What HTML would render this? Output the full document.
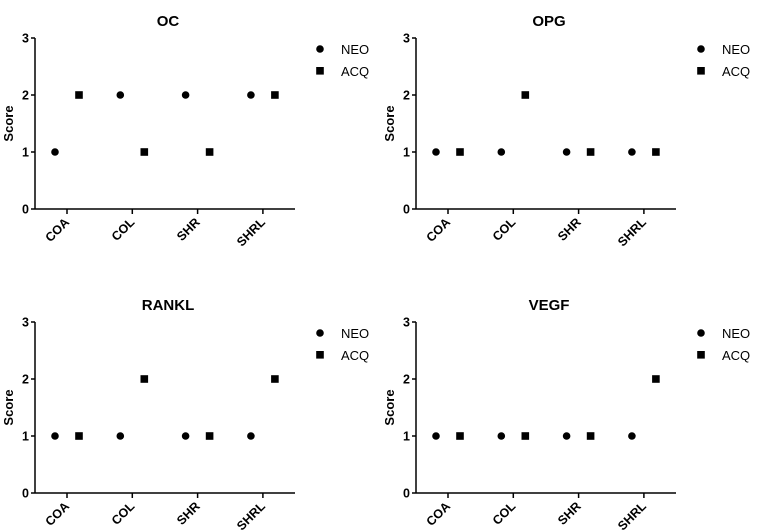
<!DOCTYPE html>
<html><head><meta charset="utf-8"><style>
html,body{margin:0;padding:0;background:#fff;}
svg{display:block;font-family:"Liberation Sans",Arial,sans-serif;}
</style></head><body>
<svg id="c" width="758" height="532" viewBox="0 0 758 532"></svg>
<script>
const categories = ["COA","COL","SHR","SHRL"];
const titles = ["OC","OPG","RANKL","VEGF"];
const yTicks = [0,1,2,3];
const neoOC = [1,2,2,2];
const acqOC = [2,1,1,2];
const neoOPG = [1,1,1,1];
const acqOPG = [1,2,1,1];
const neoRANKL = [1,1,1,1];
const acqRANKL = [1,2,1,2];
const neoVEGF = [1,1,1,1];
const acqVEGF = [1,1,1,2];
const neoSeries = [neoOC,neoOPG,neoRANKL,neoVEGF];
const acqSeries = [acqOC,acqOPG,acqRANKL,acqVEGF];

const NS="http://www.w3.org/2000/svg";
const svg=document.getElementById('c');
function mk(tag,attrs,parent,text){const e=document.createElementNS(NS,tag);for(const k in attrs)e.setAttribute(k,attrs[k]);if(text!==undefined)e.textContent=text;(parent||svg).appendChild(e);return e;}
const offsets=[[0,0],[381,0],[0,284],[381,284]];
titles.forEach((t,p)=>{
  const [ox,oy]=offsets[p];
  const g=mk('g',{});
  
  
  const x0=ox+35, x1=ox+295, yTop=oy+38, yBot=oy+209;
  const yS=v=>yBot-(v/3)*(yBot-yTop);
  const xS=i=>ox+67+i*65.3;
  const title=mk('text',{x:ox+168,y:oy+26,'text-anchor':'middle','font-size':15,'font-weight':'bold'},g,t);
  
  
  const ya=mk('line',{x1:x0,y1:yTop,x2:x0,y2:yBot,stroke:'#000','stroke-width':1.5},g);
  
  
  const xa=mk('line',{x1:x0,y1:yBot,x2:x1,y2:yBot,stroke:'#000','stroke-width':1.5},g);
  
  
  yTicks.forEach(v=>{
    mk('line',{x1:x0-4,y1:yS(v),x2:x0,y2:yS(v),stroke:'#000','stroke-width':1.5},g);
    const tl=mk('text',{x:x0-6,y:yS(v)+4.5,'text-anchor':'end','font-size':12.5,'font-weight':'bold'},g,String(v));
    
    
  });
  const yt=mk('text',{x:0,y:0,'text-anchor':'middle','font-size':13,'font-weight':'bold',transform:`translate(${ox+13},${(yTop+yBot)/2}) rotate(-90)`},g,'Score');
  
  
  categories.forEach((c,i)=>{
    const x=xS(i);
    mk('line',{x1:x,y1:yBot,x2:x,y2:yBot+5,stroke:'#000','stroke-width':1.5},g);
    const cl=mk('text',{x:0,y:0,'text-anchor':'end','font-size':12.5,'font-weight':'bold',transform:`translate(${x+3},${yBot+14}) rotate(-45)`},g,c);
    
    
    const d=mk('circle',{cx:x-12,cy:yS(neoSeries[p][i]),r:3.8,fill:'#000'},g);
    
    
    const s=mk('rect',{x:x+12-3.8,y:yS(acqSeries[p][i])-3.8,width:7.6,height:7.6,fill:'#000'},g);
    
    
  });
  const lg=mk('g',{},g);
  
  
  mk('circle',{cx:ox+320,cy:oy+49,r:3.8,fill:'#000'},lg);
  mk('text',{x:ox+341,y:oy+54,'font-size':13},lg,'NEO');
  mk('rect',{x:ox+316.2,y:oy+67,width:7.6,height:7.6,fill:'#000'},lg);
  mk('text',{x:ox+341,y:oy+76,'font-size':13},lg,'ACQ');
});
</script>
</body></html>
